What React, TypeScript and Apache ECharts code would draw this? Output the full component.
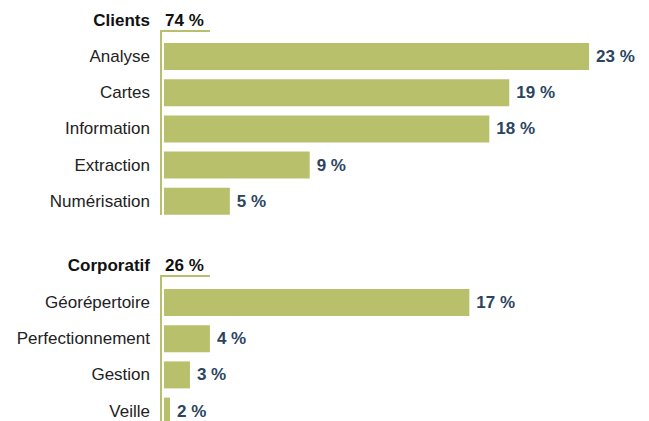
import React, { useEffect, useRef } from "react";
import * as echarts from "echarts";

const groupNames = ["Clients", "Corporatif"];
const groupTotals = ["74 %", "26 %"];
const clientCategories = ["Analyse", "Cartes", "Information", "Extraction", "Numérisation"];
const clientValues = [23, 19, 18, 9, 5];
const corpCategories = ["Géorépertoire", "Perfectionnement", "Gestion", "Veille"];
const corpValues = [17, 4, 3, 2];

const BAR = "#b8c06c";
const LABEL = "#2b4560";
const FONT = "'Liberation Sans', Arial, Helvetica, sans-serif";

export default function App() {
  const ref = useRef<HTMLDivElement>(null);
  useEffect(() => {
    document.body.style.margin = "0";
    const chart = echarts.init(ref.current!, null, { renderer: "svg" });
    const xAxisBase = {
      type: "value",
      min: 1.7,
      max: 25,
      show: false,
    };
    const yAxisBase = {
      type: "category",
      inverse: true,
      axisLine: { show: false },
      axisTick: { show: false },
      splitLine: { show: false },
      axisLabel: { fontSize: 17, color: "#222", fontFamily: FONT, margin: 14 },
    };
    const seriesBase = {
      type: "bar",
      barWidth: 27,
      itemStyle: { color: BAR },
      label: {
        show: true,
        position: "right",
        distance: 7,
        formatter: "{c} %",
        fontSize: 17,
        fontWeight: "bold",
        color: LABEL,
        fontFamily: FONT,
      },
    };
    const headerTop = [20, 265];
    const bracketY = [31, 276];
    const bracketBottom = [215, 430];
    const graphic: any[] = [];
    groupNames.forEach((name, i) => {
      graphic.push({
        type: "text",
        x: 150,
        y: headerTop[i],
        style: {
          text: name,
          fontSize: 17,
          fontWeight: "bold",
          fill: "#111",
          fontFamily: FONT,
          textAlign: "right",
          textVerticalAlign: "middle",
        },
      });
      graphic.push({
        type: "text",
        x: 165,
        y: headerTop[i],
        style: {
          text: groupTotals[i],
          fontSize: 17,
          fontWeight: "bold",
          fill: "#111",
          fontFamily: FONT,
          textAlign: "left",
          textVerticalAlign: "middle",
        },
      });
      graphic.push({
        type: "polyline",
        shape: {
          points: [
            [210, bracketY[i]],
            [161, bracketY[i]],
            [161, bracketBottom[i]],
          ],
        },
        style: { stroke: BAR, lineWidth: 2, fill: null },
      });
    });
    chart.setOption({
      animation: false,
      grid: [
        { left: 164, width: 465, top: 38.4, height: 181 },
        { left: 164, width: 465, top: 284.4, height: 144.8 },
      ],
      xAxis: [
        { ...xAxisBase, gridIndex: 0 },
        { ...xAxisBase, gridIndex: 1 },
      ],
      yAxis: [
        { ...yAxisBase, gridIndex: 0, data: clientCategories },
        { ...yAxisBase, gridIndex: 1, data: corpCategories },
      ],
      series: [
        { ...seriesBase, xAxisIndex: 0, yAxisIndex: 0, data: clientValues },
        { ...seriesBase, xAxisIndex: 1, yAxisIndex: 1, data: corpValues },
      ],
      graphic,
    });
    return () => chart.dispose();
  }, []);
  return (
    <div style={{ width: 649, height: 421, overflow: "hidden" }}>
      <div ref={ref} style={{ width: 649, height: 440 }} />
    </div>
  );
}
